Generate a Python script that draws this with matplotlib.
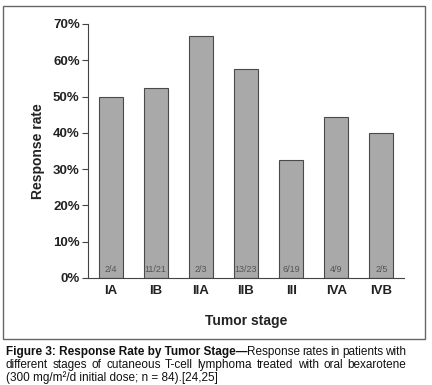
import matplotlib.pyplot as plt
from matplotlib.patches import Rectangle

stages = ['IA', 'IB', 'IIA', 'IIB', 'III', 'IVA', 'IVB']
rates = [50.0, 52.4, 66.7, 57.5, 32.5, 44.4, 40.0]
counts = ['2/4', '11/21', '2/3', '13/23', '6/19', '4/9', '2/5']
yticks = [0, 10, 20, 30, 40, 50, 60, 70]

caption_bold = 'Figure 3: Response Rate by Tumor Stage\u2014'
caption_lines = [
    'Response rates in patients with',
    'different stages of cutaneous T-cell lymphoma treated with oral bexarotene',
    '(300 mg/m\u00b2/d initial dose; n = 84).[24,25]',
]

plt.rcParams['font.family'] = ['Liberation Sans', 'DejaVu Sans']

fig = plt.figure(figsize=(4.32, 3.85), dpi=100)
ax = fig.add_axes([88/432, 1-278/385, 316/432, 254/385])

x = range(len(stages))
ax.bar(x, rates, width=0.53, color='#a9a9a9', edgecolor='#4a4a4a', linewidth=0.8)
for i, c in enumerate(counts):
    ax.text(i, 1.2, c, ha='center', va='bottom', fontsize=6.5, color='#555555')

ax.set_xlim(-0.5, 6.5)
ax.set_ylim(0, 70)
ax.set_yticks(yticks)
ax.set_yticklabels(['{}%'.format(t) for t in yticks], fontsize=9.5, fontweight='bold', color='#222222')
ax.set_xticks(list(x))
ax.set_xticklabels(stages, fontsize=9.5, fontweight='bold', color='#222222')
ax.tick_params(axis='x', length=0, pad=5)
ax.tick_params(axis='y', length=4, width=0.8, color='#444444', pad=2)
for s in ['top', 'right']:
    ax.spines[s].set_visible(False)
for s in ['left', 'bottom']:
    ax.spines[s].set_color('#444444')
    ax.spines[s].set_linewidth(0.8)
ax.set_ylabel('Response rate', fontsize=10, fontweight='bold', color='#222222', labelpad=6)
ax.set_xlabel('Tumor stage', fontsize=10, fontweight='bold', color='#222222', labelpad=12)

fig.patches.append(Rectangle((3/432, 1-339/385), 422/432, 333/385, transform=fig.transFigure,
                             fill=False, edgecolor='#666666', linewidth=1.0))

# caption, justified like the source
fig.canvas.draw()
r = fig.canvas.get_renderer()
left, right = 6/432, 406/432
fs = 8.5
ys = [1-352/385, 1-365/385, 1-378/385]


def width_of(t):
    bb = t.get_window_extent(renderer=r)
    return bb.width / fig.bbox.width


def justify(words, y, start, end, bold_first=None):
    items = []
    if bold_first:
        items.append(fig.text(start, y, bold_first, fontsize=fs, fontweight='bold', va='center', color='#111111'))
    for w in words:
        items.append(fig.text(0, y, w, fontsize=fs, va='center', color='#111111'))
    widths = [width_of(t) for t in items]
    # the bold part joins the first word directly
    gaps = len(items) - 1 - (1 if bold_first else 0)
    space = (end - start - sum(widths)) / max(gaps, 1)
    pos = start
    for k, t in enumerate(items):
        t.set_x(pos)
        pos += widths[k]
        if not (bold_first and k == 0):
            pos += space


justify(caption_lines[0].split(), ys[0], left, right, bold_first=caption_bold)
justify(caption_lines[1].split(), ys[1], left, right)
fig.text(left, ys[2], caption_lines[2], fontsize=fs, va='center', color='#111111')

fig.savefig('out.png', dpi=100)
